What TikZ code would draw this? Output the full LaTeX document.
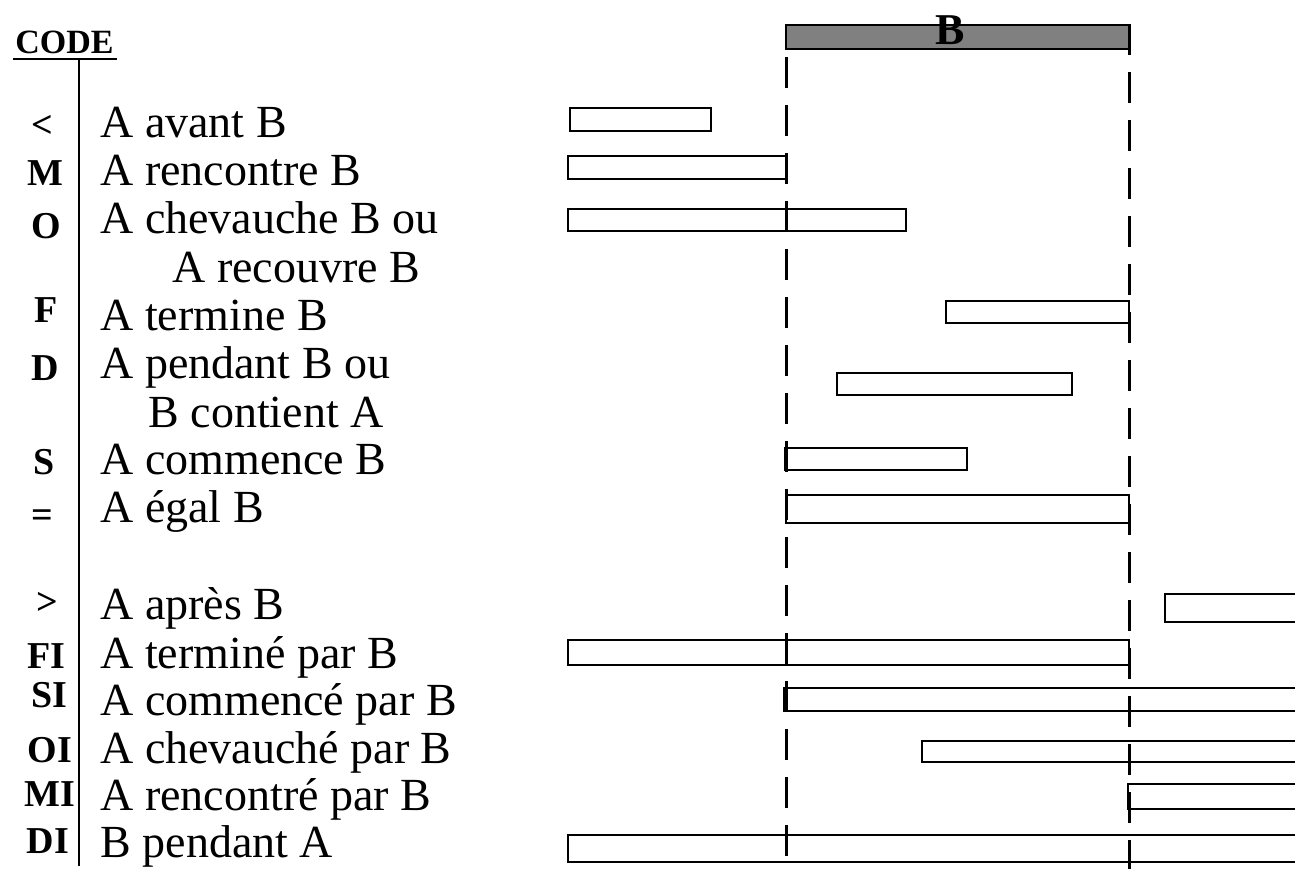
\documentclass[tikz,border=0pt]{standalone}
\usepackage{fontspec}
\setmainfont{Liberation Serif}
\begin{document}
\begin{tikzpicture}[x=0.5pt,y=-0.5pt,
  interval/.style={draw=black,line width=1pt},
  guide/.style={line width=1.5pt,dash pattern=on 15.5pt off 8.5pt},
  desc/.style={anchor=base west,inner sep=0pt,font=\fontsize{23}{27}\selectfont},
  code/.style={anchor=base,inner sep=0pt,font=\fontsize{19}{22}\selectfont\bfseries},
]
\useasboundingbox (0,0) rectangle (1295,868);
\clip (0,0) rectangle (1295,868);

% legend header and its rules
\node[anchor=base west,inner sep=0pt,font=\fontsize{17}{20}\selectfont\bfseries] (head) at (15,53) {CODE};
\draw[line width=0.8pt] (13,59) -- (117,59);
\draw[line width=0.8pt] (79,59) -- (79,866);

% relation codes
\node[code] (c1)  at (42,137) {<};
\node[code] (c2)  at (45,185) {M};
\node[code] (c3)  at (46,238) {O};
\node[code] (c4)  at (46,322) {F};
\node[code] (c5)  at (45,380) {D};
\node[code] (c6)  at (44,474) {S};
\node[code] (c7)  at (42,527) {=};
\node[code] (c8)  at (47,614) {>};
\node[code] (c9)  at (46.5,668) {FI};
\node[code] (c10) at (49,707) {SI};
\node[code] (c11) at (50,762) {OI};
\node[code] (c12) at (49.5,806) {MI};
\node[code] (c13) at (48,853) {DI};

% relation descriptions
\node[desc] (d1)  at (100,137) {A avant B};
\node[desc] (d2)  at (100,185) {A rencontre B};
\node[desc] (d3)  at (100,233) {A chevauche B ou};
\node[desc] (d3b) at (172,282) {A recouvre B};
\node[desc] (d4)  at (100,330) {A termine B};
\node[desc] (d5)  at (100,378) {A pendant B ou};
\node[desc] (d5b) at (148,427) {B contient A};
\node[desc] (d6)  at (100,474) {A commence B};
\node[desc] (d7)  at (100,522) {A égal B};
\node[desc] (d8)  at (100,619) {A après B};
\node[desc] (d9)  at (100,668) {A terminé par B};
\node[desc] (d10) at (100,715) {A commencé par B};
\node[desc] (d11) at (100,763) {A chevauché par B};
\node[desc] (d12) at (100,810) {A rencontré par B};
\node[desc] (d13) at (100,857) {B pendant A};

% reference interval B
\draw[fill=black!50,line width=1pt] (786,25) rectangle (1129,49);
\node[anchor=base,inner sep=0pt,font=\fontsize{22}{25}\selectfont\bfseries] (bname) at (950,44) {B};

% intervals A
\draw[interval] (570,108) rectangle (711,131);
\draw[interval] (568,156) rectangle (786,179);
\draw[interval] (568,209) rectangle (906,231);
\draw[interval] (946,301) rectangle (1129,323);
\draw[interval] (837,373) rectangle (1072,395);
\draw[interval] (785,448) rectangle (967,470);
\draw[interval] (786,495) rectangle (1129,523);
\draw[interval] (1165,594) rectangle (1310,622);
\draw[interval] (568,640) rectangle (1129,665);
\draw[interval] (784,688) rectangle (1310,711);
\draw[interval] (922,741) rectangle (1310,762);
\draw[interval] (1128,784) rectangle (1310,809);
\draw[interval] (568,835) rectangle (1310,862);

% bounds of B
\draw[guide] (786,57) -- (786,880);
\draw[guide] (1129,24) -- (1129,880);
\end{tikzpicture}
\end{document}
